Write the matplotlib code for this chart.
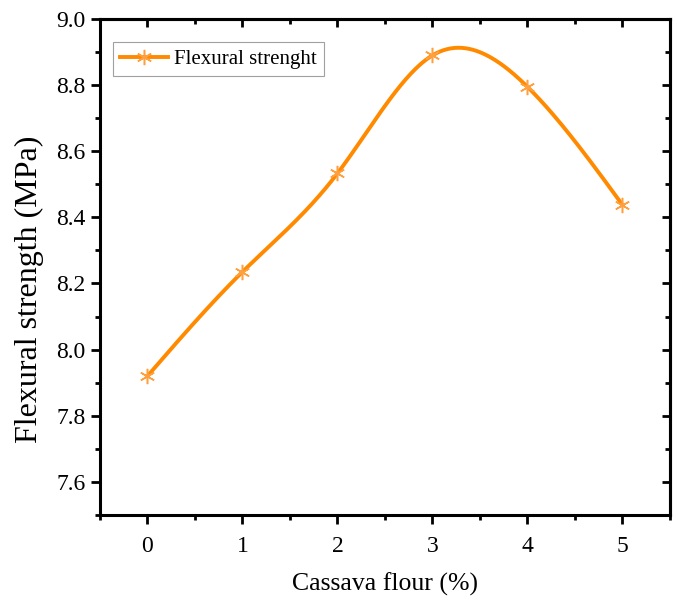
import numpy as np
import matplotlib
matplotlib.use("Agg")
import matplotlib.pyplot as plt
from matplotlib.ticker import MultipleLocator

plt.rcParams['font.family'] = ['Liberation Serif', 'DejaVu Serif']

cassava = [0, 1, 2, 3, 4, 5]
strength = [7.92, 8.235, 8.533, 8.89, 8.795, 8.438]
series_label = "Flexural strenght"
x_label = "Cassava flour (%)"
y_label = "Flexural strength (MPa)"


def natural_cubic_spline(x, y, xs):
    x = np.asarray(x, float); y = np.asarray(y, float)
    n = len(x)
    h = np.diff(x)
    A = np.zeros((n, n)); b = np.zeros(n)
    A[0, 0] = 1; A[-1, -1] = 1
    for i in range(1, n - 1):
        A[i, i - 1] = h[i - 1]
        A[i, i] = 2 * (h[i - 1] + h[i])
        A[i, i + 1] = h[i]
        b[i] = 3 * ((y[i + 1] - y[i]) / h[i] - (y[i] - y[i - 1]) / h[i - 1])
    c = np.linalg.solve(A, b)
    out = np.empty_like(xs)
    for k, xv in enumerate(xs):
        i = min(max(np.searchsorted(x, xv) - 1, 0), n - 2)
        dx = xv - x[i]
        bi = (y[i + 1] - y[i]) / h[i] - h[i] * (2 * c[i] + c[i + 1]) / 3
        di = (c[i + 1] - c[i]) / (3 * h[i])
        out[k] = y[i] + bi * dx + c[i] * dx ** 2 + di * dx ** 3
    return out


fig = plt.figure(figsize=(6.78, 6.05), dpi=100)
ax = fig.add_axes([0.1475, 0.149, 0.8405, 0.8196])

line_color = '#FF8A00'
xs = np.linspace(cassava[0], cassava[-1], 400)
ax.plot(xs, natural_cubic_spline(cassava, strength, xs), color=line_color, lw=2.8, zorder=2)
ax.plot(cassava, strength, linestyle='none', marker=(6, 2, 0), ms=11,
        mec='#FFA040', mew=1.1, zorder=3)
# legend proxy
ax.plot([], [], color=line_color, lw=2.8, marker=(6, 2, 0), ms=11,
        mec='#FFA040', mew=1.1, label=series_label)

ax.set_xlim(-0.5, 5.5)
ax.set_ylim(7.5, 9.0)
ax.xaxis.set_major_locator(MultipleLocator(1))
ax.xaxis.set_minor_locator(MultipleLocator(0.5))
ax.yaxis.set_major_locator(MultipleLocator(0.2))
ax.yaxis.set_minor_locator(MultipleLocator(0.1))
ax.yaxis.set_major_formatter(matplotlib.ticker.FormatStrFormatter('%.1f'))

for s in ax.spines.values():
    s.set_linewidth(2.2)

ax.tick_params(which='both', direction='out', width=2, labelsize=17,
               labelfontfamily='Liberation Serif', top=False, right=False)
ax.tick_params(which='major', length=6.5)
ax.tick_params(which='minor', length=3.5)
ax.tick_params(axis='x', pad=9)
ax.tick_params(axis='y', pad=4)

# top and right inward ticks
axt = ax.secondary_xaxis('top')
axt.xaxis.set_major_locator(MultipleLocator(1))
axt.xaxis.set_minor_locator(MultipleLocator(0.5))
axt.tick_params(which='both', direction='in', width=2, labeltop=False)
axt.tick_params(which='major', length=6)
axt.tick_params(which='minor', length=3.5)
axt.spines['top'].set_linewidth(2.2)
axr = ax.secondary_yaxis('right')
axr.yaxis.set_major_locator(MultipleLocator(0.2))
axr.yaxis.set_minor_locator(MultipleLocator(0.1))
axr.tick_params(which='both', direction='in', width=2, labelright=False)
axr.tick_params(which='major', length=6)
axr.tick_params(which='minor', length=3.5)
axr.spines['right'].set_linewidth(2.2)

ax.set_xlabel(x_label, fontsize=18.5, labelpad=11)
ax.set_ylabel(y_label, fontsize=23)
ax.yaxis.set_label_coords(-0.099, 0.455)

leg = ax.legend(loc='upper left', bbox_to_anchor=(0.022, 0.9536), borderaxespad=0,
                fontsize=15, frameon=True, fancybox=False, edgecolor='#888888',
                handlelength=2.3, borderpad=0.35, handletextpad=0.3)
leg.get_frame().set_linewidth(0.8)

fig.savefig('out.png', dpi=100)
